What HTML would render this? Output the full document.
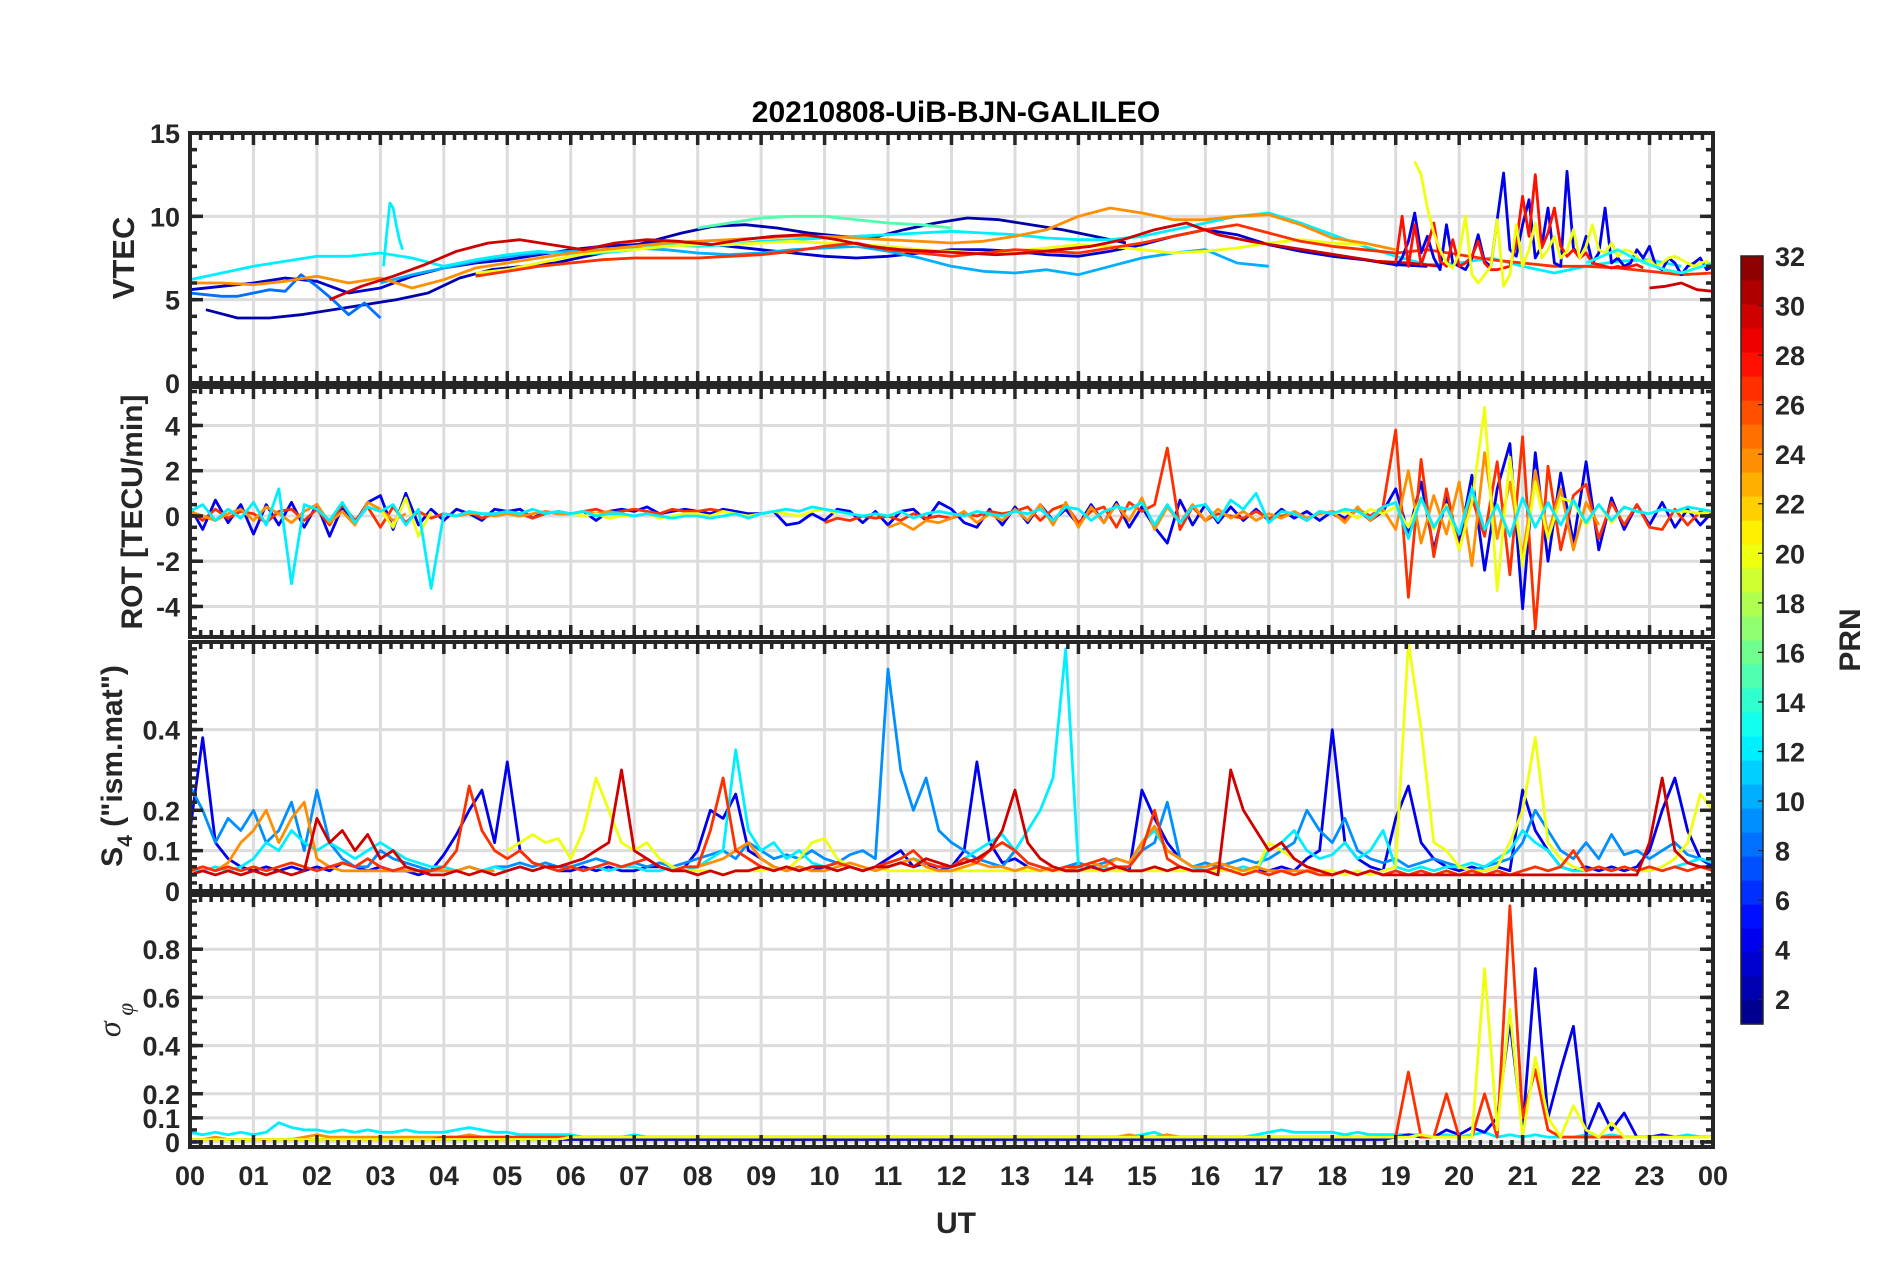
<!DOCTYPE html>
<html><head><meta charset="utf-8">
<style>
html,body{margin:0;padding:0;background:#fff;}
svg{display:block;font-family:"Liberation Sans",Arial,sans-serif;}
.tk{font-size:27px;font-weight:bold;fill:#262626;}
</style></head>
<body>
<svg id="chart" width="1902" height="1272" viewBox="0 0 1902 1272" xmlns="http://www.w3.org/2000/svg">
<rect x="0" y="0" width="1902" height="1272" fill="#fff"/>
<text x="956" y="122" text-anchor="middle" font-size="30" font-weight="bold" fill="#000">20210808-UiB-BJN-GALILEO</text>
<g id="layer"></g>
<text x="956" y="1233" text-anchor="middle" font-size="30" font-weight="bold" fill="#262626">UT</text>
<text transform="translate(134,258) rotate(-90)" text-anchor="middle" font-size="31" font-weight="bold" fill="#262626">VTEC</text>
<text transform="translate(142,512) rotate(-90)" text-anchor="middle" font-size="30" font-weight="bold" fill="#262626">ROT [TECU/min]</text>
<text transform="translate(122,766) rotate(-90)" text-anchor="middle" font-size="30" font-weight="bold" fill="#262626">S<tspan font-size="21" dy="10">4</tspan><tspan dy="-10"> ("ism.mat")</tspan></text>
<text transform="translate(120,1020) rotate(-90)" text-anchor="middle" font-size="32" font-style="italic" fill="#262626" font-family="'Liberation Serif',serif">σ<tspan font-size="23" dy="13"> φ</tspan></text>
<text transform="translate(1860,640) rotate(-90)" text-anchor="middle" font-size="30" font-weight="bold" fill="#262626">PRN</text>
</svg>
<script>
// ---- data ----
const hourLabels = ["00","01","02","03","04","05","06","07","08","09","10","11","12","13","14","15","16","17","18","19","20","21","22","23","00"];
const vtecTicks = [0,5,10,15];
const rotTicks = [-4,-2,0,2,4];
const s4Ticks = [0,0.1,0.2,0.4];
const sigTicks = [0,0.1,0.2,0.4,0.6,0.8];
const prnTicks = [2,4,6,8,10,12,14,16,18,20,22,24,26,28,30,32];

// VTEC series: prn, start hour, step hour, values
const vtecPrn = [2,3,8,10,12,12,15,20,24,27,30,4,28,20,30,13];
const vtecT0 = [0.25,0,0,3,0,3.05,8,4.5,0,4.5,2.2,19.0,19.0,19.3,23.0,22.0];
const vtecDt = [0.5,0.5,0.25,0.5,0.5,0.05,0.5,0.5,0.5,0.5,0.5,0.1,0.1,0.1,0.25,0.25];
const vtecVals = [
 [4.4,3.9,3.9,4.1,4.4,4.7,5.0,5.4,6.3,6.8,7.0,7.2,7.6,8.0,8.5,9.0,9.4,9.5,9.3,9.0,8.8,8.7,9.2,9.6,9.9,9.8,9.5,9.2,8.8,8.4],
 [5.6,5.8,6.0,6.3,6.1,5.4,5.7,6.4,6.9,7.2,7.4,7.7,8.0,8.2,8.3,8.5,8.4,8.2,8.0,7.8,7.6,7.5,7.6,7.8,8.0,8.0,7.9,7.7,7.6,7.9,8.3,8.8,9.2,8.9,8.3,7.9,7.6,7.4,7.1,7.0],
 [5.4,5.3,5.2,5.2,5.4,5.6,5.5,6.5,5.8,5.0,4.1,4.8,3.9],
 [6.0,6.5,6.9,7.3,7.6,7.8,7.9,8.0,8.1,8.0,7.8,7.7,7.8,8.0,8.1,8.2,7.9,7.5,7.0,6.7,6.6,6.8,6.5,7.0,7.5,7.8,8.0,7.2,7.0],
 [6.2,6.6,7.0,7.3,7.6,7.6,7.8,7.5,7.0,7.4,7.7,7.9,7.7,7.8,8.0,8.3,8.2,8.3,8.5,8.6,8.7,8.8,8.9,9.0,9.1,9.0,8.9,8.7,8.6,8.6,8.8,9.2,9.6,10.0,10.2,9.6,8.9,8.2,7.6,7.1,7.2,7.5,7.0,6.6,7.0,7.3,7.4,7.0],
 [7.0,9.0,10.8,10.5,9.5,8.6,8.0],
 [9.3,9.6,9.9,10.0,10.0,9.8,9.6,9.5,9.3],
 [6.6,6.8,7.2,7.6,7.9,8.0,8.2,8.3,8.3,8.4,8.5,8.4,8.3,8.2,8.0,7.9,7.8,7.9,8.1,8.3,8.2,8.0,7.8,7.9,8.1,8.4,8.6,8.4,8.3],
 [6.0,6.0,5.9,6.1,6.4,6.0,6.3,5.7,6.2,6.9,7.2,7.5,7.8,8.0,8.2,8.4,8.5,8.6,8.7,8.8,8.8,8.7,8.6,8.5,8.4,8.5,8.8,9.2,10.0,10.5,10.2,9.8,9.8,10.0,10.1,9.5,8.7,8.4,8.0],
 [6.4,6.7,7.0,7.2,7.4,7.5,7.5,7.5,7.6,7.7,7.9,8.2,8.4,8.0,7.8,7.6,7.8,8.0,7.9,7.8,8.1,8.4,8.8,9.2,9.5,9.0,8.5,8.2,8.0,7.8,8.0,7.7,7.4,7.2,7.0,7.0,6.9,6.7,6.5,6.6,6.7,6.3,6.2],
 [5.0,5.8,6.4,7.1,7.9,8.4,8.6,8.3,8.0,8.4,8.6,8.5,8.3,8.6,8.8,8.9,8.6,8.2,8.0,7.9,7.8,7.7,7.8,8.0,8.2,8.6,9.2,9.6,8.9,8.5,8.2,7.9,7.6,7.3,7.2,7.0],
 [7.0,7.5,8.5,10.2,7.8,8.8,7.5,6.8,9.5,7.2,7.0,6.8,7.5,8.9,7.3,7.0,9.8,12.6,8.0,7.6,9.5,11.0,7.5,8.2,10.5,7.2,7.0,12.7,8.1,7.5,8.8,7.2,7.8,10.5,7.2,7.5,7.0,7.2,8.0,7.5,8.2,7.0,6.8,7.5,7.2,6.5,7.0,7.2,7.5,6.8,7.0,7.3,7.6,7.1,6.9,7.4,7.8,7.5,7.2,7.0],
 [7.2,10.0,7.0,9.5,7.1,8.2,9.6,7.3,7.0,8.6,7.0,7.2,7.6,8.5,7.2,6.8,6.8,6.9,7.0,8.4,11.2,8.8,12.5,8.1,9.0,10.5,8.2,7.6,8.0,7.5,7.8,7.2,7.1,7.0,6.9,7.0,6.9,7.0,7.1,6.9],
 [13.3,12.5,10.5,9.0,8.0,7.2,6.9,7.8,10.0,6.5,6.0,6.5,7.0,9.8,5.8,6.5,9.5,7.0,8.0,9.6,7.5,8.0,8.8,7.5,7.9,9.2,7.5,8.2,9.5,8.0,7.8,8.4,7.6,8.0,7.9,7.6,7.2,7.4,7.0,7.2,7.5,7.6,7.4,7.2,7.0,7.2,7.3,7.1],
 [5.7,5.8,6.0,5.6,5.5,6.0,6.2,6.1],
 [7.2,7.6,8.0,7.5,7.1,6.8,6.6,6.9,7.2,7.5,7.3,7.0,6.8,7.1,7.4,7.2]
];

// ROT series (dt 0.2 h from 00 UT)
const rotPrn = [4,27,24,20,12];
const rotDt = 0.2;
const rotVals = [
 [0.4,-0.6,0.7,-0.3,0.5,-0.8,0.5,-0.4,0.6,-0.5,0.5,-0.9,0.4,-0.3,0.6,0.9,-0.6,1.0,-0.4,0.3,-0.2,0.3,0.1,-0.2,0.3,0.2,0.3,-0.1,0.2,0.1,0.1,0.2,-0.2,0.2,0.3,0.2,0.4,0.1,0.2,0.3,0.2,0.1,0.3,0.2,0.1,0.1,0.2,-0.4,-0.3,0.1,-0.2,0.3,0.2,-0.3,0.2,-0.4,0.2,0.3,-0.2,0.6,0.3,-0.3,-0.5,0.3,-0.4,0.4,-0.3,0.5,-0.2,0.3,-0.4,0.5,-0.3,0.6,-0.5,0.4,-0.5,-1.2,0.7,-0.4,0.5,-0.3,0.4,-0.2,0.3,-0.2,0.3,-0.1,0.2,-0.2,0.2,-0.1,0.3,-0.2,0.2,1.2,-0.8,1.5,-1.5,0.8,-1.2,1.8,-2.4,1.2,3.2,-4.1,2.8,-2.0,1.9,-1.2,2.4,-1.5,0.8,-0.6,0.5,-0.4,0.6,-0.5,0.3,-0.4,0.2],
 [0.2,-0.2,0.3,-0.1,0.2,0.1,-0.3,0.2,0.3,-0.2,0.3,-0.4,0.5,-0.2,0.4,-0.5,0.4,-0.3,0.2,-0.1,0.1,0.0,0.2,-0.1,0.1,0.2,0.1,-0.1,0.1,0.2,0.1,0.2,0.3,0.1,0.2,0.3,0.2,0.1,0.3,0.2,0.2,0.3,0.2,null,null,null,null,null,null,null,-0.3,-0.1,-0.2,0.0,-0.1,0.0,-0.2,0.1,-0.1,0.0,-0.1,0.1,0.0,0.2,0.1,0.2,0.4,-0.2,0.3,0.5,-0.3,0.2,0.4,-0.5,0.6,0.2,0.5,3.0,-0.6,0.4,-0.2,0.1,0.0,-0.1,0.2,-0.1,0.0,0.1,-0.2,0.2,0.1,-0.2,0.3,0.0,0.4,3.8,-3.6,2.5,-1.8,1.2,-1.5,0.8,-0.9,2.4,-2.6,3.5,-5.0,2.2,-1.5,0.9,1.4,-1.0,0.6,-0.4,0.5,-0.5,-0.6,0.3,-0.4,0.2,-0.1],
 [0.2,0.0,-0.2,0.1,0.3,-0.2,0.4,0.1,-0.3,0.2,0.5,-0.3,0.2,-0.4,0.6,0.3,-0.2,0.1,null,null,0.1,0.0,0.1,0.1,0.0,0.1,0.0,0.1,0.2,0.1,0.1,0.2,0.1,0.2,0.1,null,null,null,null,null,null,null,null,null,null,null,null,null,null,null,null,null,null,null,null,-0.5,-0.3,-0.6,-0.2,-0.3,-0.1,0.2,-0.3,0.1,-0.2,0.3,-0.2,0.5,-0.4,0.6,-0.5,0.4,-0.3,0.5,-0.2,0.8,-0.6,0.4,-0.3,0.5,-0.2,0.3,-0.1,0.2,-0.2,0.1,-0.1,0.2,-0.1,0.1,0.2,-0.3,0.4,-0.2,0.3,-0.6,2.0,-1.2,0.9,-0.8,1.5,-2.2,2.8,-1.0,1.5,-1.8,2.0,-0.8,1.2,-1.5,0.6,-0.4,null,null,null,null,null,null,null,null,null],
 [null,null,null,null,null,null,null,null,null,null,null,null,null,null,null,0.3,-0.5,0.8,-0.9,0.2,null,null,null,null,null,null,null,null,null,null,0.1,0.0,0.1,-0.1,0.0,0.0,0.1,-0.1,0.0,0.1,0.1,0.0,0.2,0.1,0.0,0.1,0.2,0.1,0.0,0.2,0.3,0.1,null,null,null,null,null,null,null,null,null,null,null,null,null,null,null,null,null,null,null,null,null,null,null,null,null,null,null,null,null,null,null,null,null,null,null,null,null,null,0.1,0.2,-0.1,0.3,0.1,0.4,-0.5,0.8,-0.6,0.5,-1.5,0.6,4.8,-3.3,2.6,-2.2,1.5,-1.0,0.8,0.6,-0.4,0.5,-0.3,0.4,0.2,0.1,0.3,0.2,0.2,0.1,0.2],
 [0.2,0.5,-0.2,0.3,-0.1,0.6,-0.4,1.2,-3.0,0.5,0.3,-0.2,0.6,-0.3,0.4,0.2,0.5,-0.4,0.3,-3.2,0.1,0.0,0.2,0.1,0.1,0.2,0.1,0.3,0.1,0.2,0.1,0.2,0.0,0.1,0.1,0.0,0.1,0.0,-0.1,0.0,0.0,-0.1,0.0,0.1,-0.1,0.1,0.2,0.3,0.2,0.4,0.3,0.2,0.1,0.0,0.1,0.0,0.2,-0.1,0.1,0.2,0.1,0.0,0.2,0.1,0.0,0.2,0.1,0.3,-0.2,0.4,0.3,-0.2,0.2,0.4,0.3,0.6,-0.4,0.5,-0.3,0.4,0.5,-0.2,0.7,0.3,1.0,-0.3,0.2,0.1,-0.2,0.2,0.1,0.3,0.2,-0.1,0.4,0.6,-1.0,0.8,-0.5,0.4,-0.8,1.2,-0.6,0.5,-0.9,0.8,-0.5,0.6,-0.4,0.7,-0.3,0.5,-0.2,0.4,0.2,0.1,0.3,0.2,0.4,0.3,0.2]
];

// S4 series (dt 0.2 h)
const s4Prn = [4,9,12,20,24,27,30];
const s4Dt = 0.2;
const s4Vals = [
 [0.15,0.38,0.12,0.08,0.06,0.05,0.06,0.05,0.06,0.05,0.06,0.05,0.07,0.06,0.05,0.06,0.05,0.05,0.04,0.05,0.09,0.14,0.2,0.25,0.12,0.32,0.1,0.07,0.06,0.05,0.05,0.06,0.05,0.06,0.05,0.05,0.06,0.06,0.05,0.06,0.1,0.2,0.18,0.24,0.1,0.08,0.06,0.05,0.06,0.05,0.06,0.07,0.06,0.05,0.06,0.08,0.1,0.06,0.07,0.05,0.06,0.1,0.32,0.12,0.07,0.08,0.06,0.05,0.06,0.05,0.05,0.06,0.05,0.06,0.05,0.25,0.18,0.12,0.08,0.06,0.05,0.06,0.05,0.06,0.05,0.05,0.06,0.05,0.08,0.1,0.4,0.12,0.08,0.06,0.05,0.18,0.26,0.12,0.08,0.06,0.05,0.06,0.05,0.06,0.05,0.25,0.15,0.1,0.06,0.05,0.06,0.05,0.06,0.05,0.06,0.1,0.2,0.28,0.15,0.08,0.06],
 [0.26,0.2,0.12,0.18,0.15,0.2,0.12,0.15,0.22,0.1,0.25,0.12,0.08,0.06,0.06,0.1,0.08,0.07,0.06,0.05,0.05,0.05,0.06,0.05,0.06,0.06,0.07,0.06,0.07,0.06,0.06,0.07,0.08,0.07,0.06,0.07,0.06,0.07,0.06,0.07,0.08,0.09,0.1,0.08,0.12,0.1,0.08,0.09,0.08,0.1,0.08,0.07,0.09,0.1,0.08,0.55,0.3,0.2,0.28,0.15,0.12,0.1,0.08,0.07,0.06,0.1,0.07,0.06,0.05,0.06,0.07,0.06,0.07,0.08,0.07,0.1,0.12,0.22,0.08,0.06,0.07,0.06,0.07,0.08,0.07,0.08,0.1,0.12,0.2,0.15,0.12,0.18,0.1,0.08,0.07,0.08,0.06,0.07,0.08,0.07,0.06,0.05,0.06,0.07,0.08,0.12,0.2,0.15,0.1,0.08,0.12,0.08,0.14,0.09,0.1,0.08,0.1,0.12,0.09,0.08,0.07],
 [0.05,0.05,0.06,0.05,0.06,0.08,0.12,0.1,0.15,0.12,0.1,0.12,0.1,0.08,0.1,0.12,0.1,0.08,0.07,0.06,0.06,0.05,0.06,0.05,0.06,0.05,0.06,0.05,0.06,0.05,0.06,0.05,0.06,0.05,0.06,0.06,0.05,0.05,0.06,0.05,0.06,0.08,0.1,0.35,0.15,0.1,0.12,0.08,0.1,0.07,0.06,0.05,0.06,0.05,0.06,0.06,0.07,0.08,0.07,0.06,0.06,0.08,0.1,0.12,0.14,0.1,0.15,0.2,0.28,0.6,0.06,0.05,0.06,0.05,0.06,0.12,0.15,0.1,0.08,0.06,0.05,0.06,0.05,0.06,0.05,0.1,0.12,0.15,0.1,0.08,0.09,0.12,0.08,0.1,0.15,0.06,0.05,0.06,0.05,0.06,0.06,0.07,0.06,0.08,0.1,0.15,0.12,0.1,0.06,0.05,0.05,0.06,0.05,0.06,0.05,0.06,0.05,0.06,0.07,0.08,0.07],
 [null,null,null,null,null,null,null,null,null,null,null,null,null,null,null,null,null,null,null,null,null,null,null,null,null,0.1,0.12,0.14,0.12,0.13,0.08,0.15,0.28,0.2,0.12,0.1,0.12,0.08,0.06,0.05,0.05,0.05,0.04,0.05,0.05,0.05,0.06,0.05,0.08,0.12,0.13,0.08,0.06,0.05,0.06,0.05,0.05,0.05,0.05,0.05,0.05,0.05,0.05,0.05,0.05,0.05,0.05,0.05,0.05,0.05,0.05,0.05,0.05,0.05,0.05,0.05,0.05,0.05,0.05,0.05,0.05,0.05,0.05,0.05,0.05,0.12,0.1,0.08,0.06,0.05,0.05,0.04,0.05,0.04,0.05,0.06,0.62,0.4,0.12,0.1,0.06,0.05,0.05,0.06,0.12,0.2,0.38,0.12,0.08,0.06,0.05,0.06,0.05,0.06,0.05,0.05,0.06,0.08,0.12,0.24,0.2],
 [0.05,0.06,0.05,0.07,0.12,0.15,0.2,0.12,0.18,0.22,0.08,0.06,0.05,0.05,0.05,0.05,0.05,0.05,0.05,0.05,0.05,0.05,0.06,0.05,0.05,null,null,null,null,null,null,null,null,null,null,null,null,null,null,null,0.06,0.07,0.08,0.1,0.12,0.08,0.06,0.05,0.06,0.05,0.05,0.06,0.07,0.06,0.05,0.06,0.07,0.08,0.06,0.05,0.05,0.06,0.07,0.06,0.06,0.05,0.06,0.05,0.06,0.05,0.06,0.07,0.06,0.08,0.07,0.12,0.16,0.1,0.08,0.06,0.06,0.07,0.06,0.05,0.06,0.05,0.05,0.05,0.05,0.05],
 [0.05,0.06,0.05,0.06,0.05,0.06,0.05,0.06,0.07,0.06,0.05,0.06,0.07,0.06,0.08,0.06,0.05,0.06,0.05,0.05,0.06,0.1,0.26,0.15,0.1,0.08,0.1,0.07,0.06,0.05,0.06,0.05,0.06,0.07,0.06,0.07,0.08,0.06,0.05,0.06,0.06,0.15,0.28,0.1,0.08,0.06,0.05,0.06,0.05,0.06,0.06,0.07,0.06,0.05,0.06,0.07,0.08,0.1,0.07,0.06,0.06,0.08,0.07,0.1,0.12,0.1,0.07,0.06,0.05,0.06,0.06,0.07,0.08,0.06,0.06,0.1,0.2,0.08,0.06,0.05,0.05,0.06,0.05,0.04,0.05,0.04,0.05,0.04,0.05,0.04,0.04,0.05,0.04,0.05,0.04,0.05,0.04,0.05,0.04,0.05,0.04,0.05,0.04,0.05,0.04,0.05,0.06,0.05,0.06,0.1,0.05,0.06,0.05,0.06,0.05,0.06,0.05,0.06,0.05,0.06,0.05],
 [0.04,0.05,0.04,0.05,0.04,0.05,0.04,0.05,0.04,0.05,0.18,0.12,0.15,0.1,0.14,0.08,0.1,0.06,0.05,0.04,0.04,0.05,0.04,0.05,0.04,0.05,0.06,0.05,0.06,0.06,0.07,0.08,0.1,0.12,0.3,0.1,0.08,0.06,0.05,0.05,0.04,0.05,0.04,0.05,0.05,0.06,0.05,0.06,0.05,0.06,0.06,0.05,0.06,0.05,0.06,0.06,0.07,0.06,0.08,0.07,0.06,0.07,0.08,0.1,0.15,0.25,0.12,0.08,0.06,0.05,0.05,0.06,0.05,0.06,0.05,0.05,0.06,0.05,0.06,0.05,0.05,0.04,0.3,0.2,0.15,0.1,0.12,0.08,0.06,0.05,0.04,0.05,0.04,0.05,0.04,0.04,0.04,0.04,0.04,0.04,0.04,0.04,0.04,0.04,0.04,0.04,0.04,0.04,0.04,0.04,0.04,0.04,0.04,0.04,0.04,0.12,0.28,0.1,0.07,0.06,0.06]
];

// sigma-phi series (dt 0.2 h)
const sigPrn = [12,24,4,27,20];
const sigDt = 0.2;
const sigVals = [
 [0.04,0.03,0.04,0.03,0.04,0.03,0.04,0.08,0.06,0.05,0.05,0.04,0.05,0.04,0.05,0.04,0.04,0.05,0.04,0.04,0.04,0.05,0.06,0.05,0.04,0.04,0.03,0.03,0.03,0.03,0.03,0.02,0.02,0.02,0.02,0.03,0.02,0.02,0.02,0.02,0.02,0.02,0.02,0.02,0.02,0.02,0.02,0.02,0.02,0.02,0.02,0.02,0.02,0.02,0.02,0.02,0.02,0.02,0.02,0.02,0.02,0.02,0.02,0.02,0.02,0.02,0.02,0.02,0.02,0.02,0.02,0.02,0.02,0.02,0.02,0.03,0.04,0.02,0.02,0.02,0.02,0.02,0.02,0.02,0.03,0.04,0.05,0.04,0.04,0.04,0.04,0.03,0.04,0.03,0.03,0.03,0.03,0.03,0.02,0.03,0.02,0.03,0.04,0.02,0.03,0.02,0.03,0.02,0.02,0.02,0.03,0.02,0.03,0.02,0.02,0.02,0.02,0.02,0.03,0.02,0.02],
 [0.01,0.01,0.02,0.01,0.01,0.01,0.01,0.01,0.01,0.02,0.03,0.02,0.02,0.02,0.02,0.02,0.02,0.02,0.02,0.02,0.02,0.02,0.03,0.02,0.02,0.02,0.02,0.02,0.02,0.02,0.02,0.02,0.01,0.01,0.01,0.02,0.02,0.01,0.01,0.01,0.01,0.01,0.01,0.01,0.01,0.01,0.01,0.01,0.01,0.01,0.01,0.01,0.01,0.01,0.01,0.02,0.02,0.02,0.02,0.02,0.02,0.02,0.02,0.02,0.02,0.02,0.02,0.02,0.02,0.02,0.02,0.02,0.02,0.02,0.03,0.02,0.02,0.03,0.02,0.02,0.02,0.02,0.02,0.02,0.02,0.02,0.02,0.02,0.02,0.02,0.02,0.02,0.02,0.02,0.02],
 [0.01,0.01,0.01,0.01,0.01,0.01,0.01,0.01,0.01,0.01,0.01,0.01,0.01,0.01,0.01,0.01,0.01,0.01,0.01,0.01,0.01,0.01,0.01,0.01,0.01,0.01,0.01,0.01,0.01,0.01,0.01,0.01,0.01,0.01,0.01,0.01,0.01,0.01,0.01,0.01,0.01,0.01,0.01,0.01,0.01,0.01,0.01,0.01,0.01,0.01,0.01,0.01,0.01,0.01,0.01,0.01,0.01,0.01,0.01,0.01,0.01,0.01,0.01,0.01,0.01,0.01,0.01,0.01,0.01,0.01,0.01,0.01,0.01,0.01,0.01,0.01,0.01,0.01,0.01,0.01,0.01,0.01,0.01,0.01,0.01,0.01,0.01,0.01,0.01,0.01,0.01,0.01,0.01,0.01,0.01,0.02,0.03,0.02,0.02,0.05,0.03,0.06,0.04,0.1,0.5,0.05,0.72,0.1,0.3,0.48,0.03,0.16,0.05,0.12,0.02,0.02,0.03,0.02,0.02,0.02,0.02],
 [0.01,0.01,0.01,0.01,0.01,0.01,0.01,0.01,0.01,0.01,0.01,0.01,0.01,0.01,0.01,0.01,0.01,0.01,0.01,0.01,0.02,0.02,0.02,0.02,0.02,0.02,0.02,0.02,0.02,0.02,0.02,0.02,0.02,0.02,0.02,0.02,0.02,0.02,0.02,0.02,0.02,0.02,0.02,0.02,0.02,0.02,0.02,0.02,0.02,0.02,0.02,0.02,0.02,0.02,0.02,0.02,0.02,0.02,0.02,0.02,0.02,0.02,0.02,0.02,0.02,0.02,0.02,0.02,0.02,0.02,0.02,0.02,0.02,0.02,0.02,0.02,0.02,0.02,0.02,0.02,0.02,0.02,0.02,0.02,0.02,0.02,0.02,0.02,0.02,0.02,0.02,0.02,0.02,0.02,0.02,0.02,0.29,0.02,0.02,0.2,0.02,0.02,0.2,0.02,0.98,0.1,0.3,0.05,0.02,0.02,0.02,0.02,0.02,0.02,0.02,0.02,0.02,0.02,0.02,0.02,0.02],
 [0.01,0.01,0.01,0.01,0.01,0.01,0.01,0.01,0.01,0.01,0.01,0.01,0.01,0.01,0.01,0.01,0.01,0.01,0.01,0.01,0.01,0.01,0.01,0.01,0.01,0.01,0.01,0.01,0.01,0.01,0.02,0.02,0.02,0.02,0.02,0.02,0.02,0.02,0.02,0.02,0.02,0.02,0.02,0.02,0.02,0.02,0.02,0.02,0.02,0.02,0.02,0.02,0.02,0.02,0.02,0.02,0.02,0.02,0.02,0.02,0.02,0.02,0.02,0.02,0.02,0.02,0.02,0.02,0.02,0.02,0.02,0.02,0.02,0.02,0.02,0.02,0.02,0.02,0.02,0.02,0.02,0.02,0.02,0.02,0.02,0.02,0.02,0.02,0.02,0.02,0.02,0.02,0.02,0.02,0.02,0.02,0.02,0.03,0.02,0.02,0.02,0.02,0.72,0.05,0.55,0.02,0.35,0.1,0.02,0.15,0.05,0.02,0.08,0.02,0.02,0.02,0.02,0.02,0.02,0.02,0.02]
];

// ---- layout ----
const NS = "http://www.w3.org/2000/svg";
const layer = document.getElementById('layer');
const X0 = 190, X1 = 1713;
const panels = [
 {name:'vtec', top:133, bot:383, min:0, max:15, ticks:vtecTicks, minor:1, lab:v=>String(v)},
 {name:'rot', top:387, bot:637, min:-5.35, max:5.7, ticks:rotTicks, minor:0.5, lab:v=>String(v)},
 {name:'s4', top:642, bot:891, min:0, max:0.617, ticks:s4Ticks, minor:0.02, lab:v=>v===0?'0':String(v)},
 {name:'sigma', top:895, bot:1147, min:-0.021, max:1.025, ticks:sigTicks, minor:0.05, lab:v=>v===0?'0':String(v)}
];
function xScale(h){ return X0 + (X1-X0)*h/24; }
function yScale(p,v){ return p.bot - (v-p.min)/(p.max-p.min)*(p.bot-p.top); }
function jet(prn){
  const t=(prn-0.5)/32;
  const c=x=>Math.round(255*Math.max(0,Math.min(1,x)));
  return `rgb(${c(1.5-Math.abs(4*t-3))},${c(1.5-Math.abs(4*t-2))},${c(1.5-Math.abs(4*t-1))})`;
}
function mk(tag, attrs, parent){
  const e=document.createElementNS(NS,tag);
  for(const k in attrs) e.setAttribute(k,attrs[k]);
  (parent||layer).appendChild(e); return e;
}
function seriesPath(p,t0,dt,vals){
  let d='', pen=false;
  vals.forEach((v,i)=>{
    if(v===null){pen=false;return;}
    const x=xScale(t0+i*dt), y=yScale(p,Math.max(p.min,Math.min(p.max,v)));
    d += (pen?'L':'M')+x.toFixed(1)+' '+y.toFixed(1);
    pen=true;
  });
  return d;
}

panels.forEach((p,pi)=>{
  const g=mk('g',{});
  
  
  for(let h=1;h<24;h++){
    const l=mk('line',{x1:xScale(h),x2:xScale(h),y1:p.top,y2:p.bot,stroke:'#dcdcdc','stroke-width':3},g);
    
    
  }
  p.ticks.forEach(v=>{
    const y=yScale(p,v);
    if(y>p.top+3 && y<p.bot-3){
      const l=mk('line',{x1:X0,x2:X1,y1:y,y2:y,stroke:'#dcdcdc','stroke-width':3},g);
      
      
    }
  });
  const sets = pi===0 ? vtecVals.map((v,i)=>[vtecPrn[i],vtecT0[i],vtecDt[i],v])
    : pi===1 ? rotVals.map((v,i)=>[rotPrn[i],0,rotDt,v])
    : pi===2 ? s4Vals.map((v,i)=>[s4Prn[i],0,s4Dt,v])
    : sigVals.map((v,i)=>[sigPrn[i],0,sigDt,v]);
  const cp=mk('clipPath',{id:'clip'+pi},g);
  mk('rect',{x:X0,y:p.top,width:X1-X0,height:p.bot-p.top},cp);
  const cg=mk('g',{'clip-path':'url(#clip'+pi+')'},g);
  sets.forEach(s=>{
    const path=mk('path',{d:seriesPath(p,s[1],s[2],s[3]),fill:'none',stroke:jet(s[0]),'stroke-width':2.8,'stroke-linejoin':'round'},cg);
    
    
  });
  for(let m=0;m<=144;m++){
    const x=xScale(m/6), len=(m%6===0)?12:7;
    mk('line',{x1:x,x2:x,y1:p.top,y2:p.top+len,stroke:'#262626','stroke-width':3.5},g);
    mk('line',{x1:x,x2:x,y1:p.bot,y2:p.bot-len,stroke:'#262626','stroke-width':3.5},g);
  }
  for(let v=Math.ceil(p.min/p.minor)*p.minor; v<=p.max+1e-9; v+=p.minor){
    const y=yScale(p,v);
    mk('line',{x1:X0,x2:X0+7,y1:y,y2:y,stroke:'#262626','stroke-width':3.5},g);
    mk('line',{x1:X1,x2:X1-7,y1:y,y2:y,stroke:'#262626','stroke-width':3.5},g);
  }
  p.ticks.forEach(v=>{
    const y=yScale(p,v);
    mk('line',{x1:X0,x2:X0+13,y1:y,y2:y,stroke:'#262626','stroke-width':3.5},g);
    mk('line',{x1:X1,x2:X1-13,y1:y,y2:y,stroke:'#262626','stroke-width':3.5},g);
    const t=mk('text',{x:180,y:y+10,'text-anchor':'end',class:'tk'},g);
    t.textContent=p.lab(v);
    
    
  });
  const fr=mk('rect',{x:X0,y:p.top,width:X1-X0,height:p.bot-p.top,fill:'none',stroke:'#262626','stroke-width':4},g);
  
  
});

hourLabels.forEach((s,i)=>{
  const t=mk('text',{x:xScale(i),y:1185,'text-anchor':'middle',class:'tk'});
  t.textContent=s;
  
  
});

const CB={x:1741,w:22,top:256,bot:1024,min:1,max:32};
const cbG=mk('g',{});


function cbY(v){ return CB.bot-(v-CB.min)/(CB.max-CB.min)*(CB.bot-CB.top); }
for(let k=1;k<=32;k++){
  const y0=CB.bot-(k-1)/32*(CB.bot-CB.top), y1=CB.bot-k/32*(CB.bot-CB.top);
  mk('rect',{x:CB.x,y:y1,width:CB.w,height:y0-y1+0.6,fill:jet(k)},cbG);
}
mk('rect',{x:CB.x,y:CB.top,width:CB.w,height:CB.bot-CB.top,fill:'none',stroke:'#262626','stroke-width':1.5},cbG);
prnTicks.forEach(v=>{
  const y=cbY(v);
  mk('line',{x1:CB.x+CB.w-5,x2:CB.x+CB.w,y1:y,y2:y,stroke:'#262626','stroke-width':1.2},cbG);
  const t=mk('text',{x:1775,y:y+10,class:'tk','font-size':'29'},cbG);
  t.textContent=String(v);
  
  
});
</script>
</body></html>
